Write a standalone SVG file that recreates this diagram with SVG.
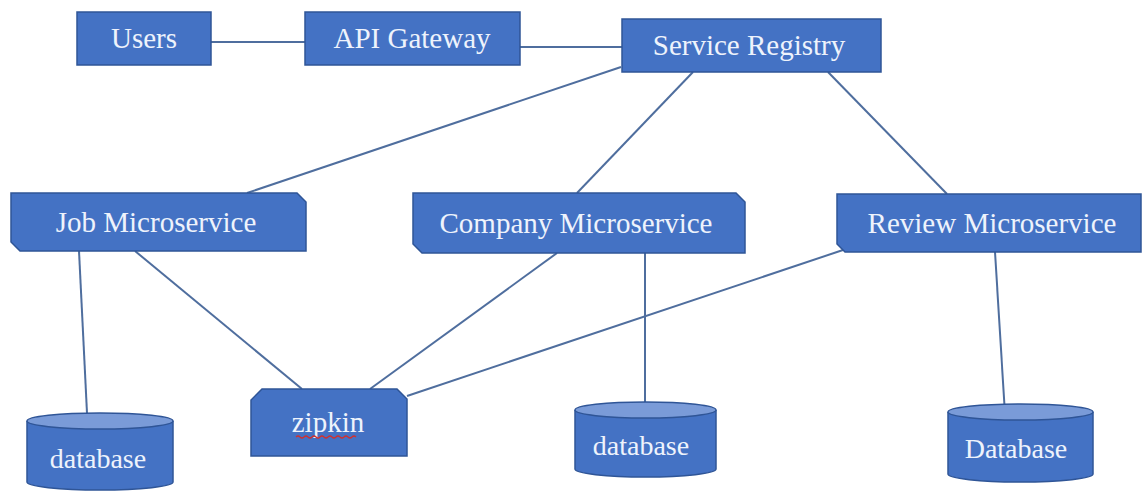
<svg xmlns="http://www.w3.org/2000/svg" width="1143" height="491" viewBox="0 0 1143 491">
  <defs>
    <style>
      .box { fill: #4472c4; stroke: #2f5597; stroke-width: 1.5; }
      .cyl { fill: #4472c4; stroke: #2f5597; stroke-width: 1.5; }
      .cyltop { fill: #7a9bd8; stroke: #2f5597; stroke-width: 1.5; }
      .lbl { font-family: "Liberation Serif", "Times New Roman", serif; font-size: 29px; fill: #eef3fc; text-anchor: middle; }
      .db { font-size: 28px; }
      .edge { stroke: #4f6e9e; stroke-width: 2; fill: none; }
    </style>
  </defs>
  <rect width="1143" height="491" fill="#ffffff"/>

  <!-- connectors -->
  <g id="connectors">
    <line class="edge" x1="211" y1="42" x2="305" y2="42"/>
    <line class="edge" x1="520" y1="47" x2="622" y2="47"/>
    <line class="edge" x1="621" y1="67" x2="247" y2="193"/>
    <line class="edge" x1="693" y1="72" x2="577" y2="193"/>
    <line class="edge" x1="828" y1="72" x2="947" y2="194"/>
    <line class="edge" x1="79" y1="251" x2="87" y2="413"/>
    <line class="edge" x1="135" y1="251" x2="302" y2="389"/>
    <line class="edge" x1="557" y1="253" x2="370" y2="389"/>
    <line class="edge" x1="843" y1="250" x2="407" y2="396"/>
    <line class="edge" x1="645" y1="253" x2="645" y2="403"/>
    <line class="edge" x1="995" y1="252" x2="1005" y2="414"/>
  </g>

  <g id="users">
    <rect class="box" x="77" y="12" width="134" height="53"/>
    <text class="lbl" x="144" y="48">Users</text>
  </g>

  <g id="api-gateway">
    <rect class="box" x="305" y="12" width="215" height="53"/>
    <text class="lbl" x="412" y="48">API Gateway</text>
  </g>

  <g id="service-registry">
    <rect class="box" x="622" y="19" width="259" height="53"/>
    <text class="lbl" x="749" y="55">Service Registry</text>
  </g>

  <g id="job-microservice">
    <path class="box" d="M11,193 H297 L306,202 V251 H20 L11,242 Z"/>
    <text class="lbl" x="156" y="232">Job Microservice</text>
  </g>

  <g id="company-microservice">
    <path class="box" d="M413,193 H736 L745,202 V253 H422 L413,244 Z"/>
    <text class="lbl" x="576" y="233">Company Microservice</text>
  </g>

  <g id="review-microservice">
    <path class="box" d="M837,194 H1141 V252 H845 L837,244 Z"/>
    <text class="lbl" x="992" y="233">Review Microservice</text>
  </g>

  <g id="zipkin">
    <path class="box" d="M262,389 H397 L407,399 V456 H251 V400 Z"/>
    <text class="lbl" x="328" y="432">zipkin</text>
    <path d="M296,437 q2,-2 4,0 t4,0 t4,0 t4,0 t4,0 t4,0 t4,0 t4,0 t4,0 t4,0 t4,0 t4,0 t4,0 t4,0 t4,0" fill="none" stroke="#d03030" stroke-width="1.2"/>
  </g>

  <g id="database-job">
    <path class="cyl" d="M27,421 V482 A73,8 0 0 0 173,482 V421"/>
    <ellipse class="cyltop" cx="100" cy="421" rx="73" ry="8"/>
    <text class="lbl db" x="98" y="468">database</text>
  </g>

  <g id="database-company">
    <path class="cyl" d="M575,410 V469 A70.5,8 0 0 0 716,469 V410"/>
    <ellipse class="cyltop" cx="645.5" cy="410" rx="70.5" ry="8"/>
    <text class="lbl db" x="641" y="455">database</text>
  </g>

  <g id="database-review">
    <path class="cyl" d="M948,412 V474 A72.5,8 0 0 0 1093,474 V412"/>
    <ellipse class="cyltop" cx="1020.5" cy="412" rx="72.5" ry="8"/>
    <text class="lbl db" x="1016" y="458">Database</text>
  </g>
</svg>
